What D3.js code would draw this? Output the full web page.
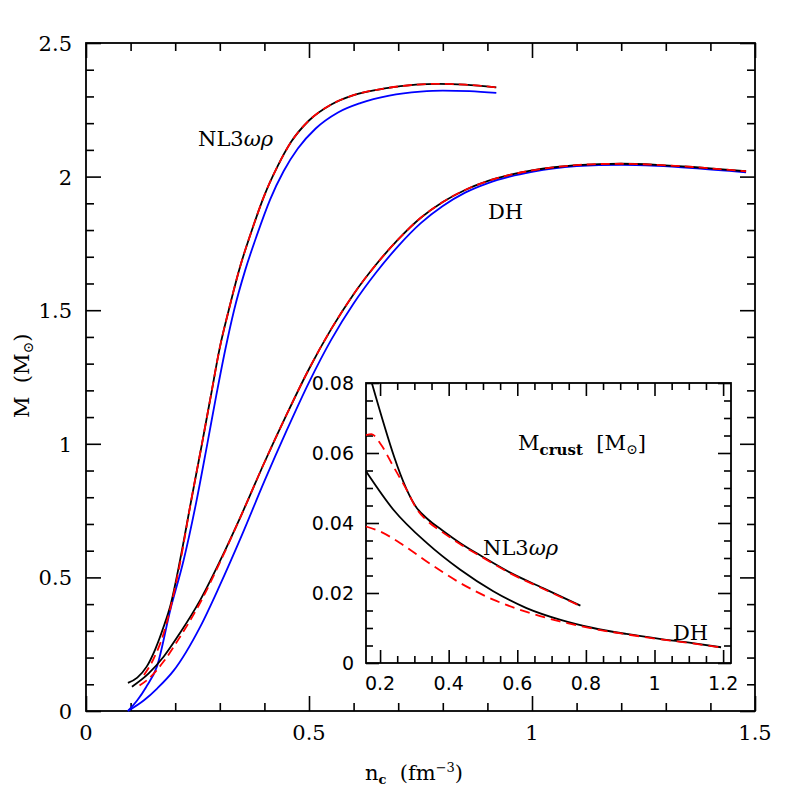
<!DOCTYPE html>
<html>
<head>
<meta charset="utf-8">
<script src="https://cdn.jsdelivr.net/npm/d3@7"></script>
<style>
  body { margin: 0; background: #fff; }
  text { fill: #000; white-space: pre; }
</style>
</head>
<body>
<div id="chart"></div>
<script>
// Main panel: M(n_c) curves, [n_c, M].
const nl3Black = [[0.094,0.105],[0.115,0.125],[0.136,0.166],[0.155,0.23],[0.174,0.315],[0.19,0.40],[0.211,0.565],
  [0.235,0.78],[0.26,1.0],[0.28,1.18],[0.30,1.36],[0.32,1.50],[0.345,1.66],[0.37,1.79],[0.40,1.93],[0.43,2.04],
  [0.46,2.13],[0.50,2.21],[0.55,2.27],[0.60,2.305],[0.67,2.33],[0.74,2.344],[0.79,2.347],[0.85,2.344],[0.92,2.334]];
const nl3Red = [[0.13,0.135],[0.15,0.19],[0.174,0.29],[0.19,0.39],[0.211,0.555],
  [0.235,0.78],[0.26,1.0],[0.28,1.18],[0.30,1.36],[0.32,1.50],[0.345,1.66],[0.37,1.79],[0.40,1.93],[0.43,2.04],
  [0.46,2.13],[0.50,2.21],[0.55,2.27],[0.60,2.305],[0.67,2.33],[0.74,2.344],[0.79,2.347],[0.85,2.344],[0.92,2.334]];
const nl3Blue = [[0.094,0],[0.115,0.04],[0.135,0.09],[0.159,0.166],[0.189,0.378],[0.219,0.565],[0.247,0.78],
  [0.272,1.0],[0.292,1.18],[0.312,1.35],[0.332,1.50],[0.357,1.65],[0.383,1.78],[0.413,1.915],[0.443,2.02],
  [0.475,2.105],[0.515,2.18],[0.565,2.24],[0.615,2.275],[0.68,2.303],[0.75,2.318],[0.80,2.322],[0.86,2.32],[0.92,2.313]];
const dhBlack = [[0.103,0.091],[0.14,0.14],[0.174,0.203],[0.21,0.29],[0.256,0.415],[0.30,0.56],[0.35,0.74],[0.40,0.93],
  [0.45,1.11],[0.50,1.28],[0.55,1.43],[0.60,1.56],[0.65,1.67],[0.70,1.765],[0.75,1.845],[0.80,1.905],[0.85,1.95],
  [0.90,1.983],[0.95,2.006],[1.0,2.023],[1.05,2.035],[1.1,2.043],[1.15,2.047],[1.2,2.048],[1.28,2.044],[1.36,2.036],
  [1.42,2.028],[1.48,2.02]];
const dhRed = [[0.12,0.095],[0.14,0.12],[0.174,0.185],[0.21,0.275],[0.256,0.405],[0.30,0.555],[0.35,0.74],[0.40,0.93],
  [0.45,1.11],[0.50,1.28],[0.55,1.43],[0.60,1.56],[0.65,1.67],[0.70,1.765],[0.75,1.845],[0.80,1.905],[0.85,1.95],
  [0.90,1.983],[0.95,2.006],[1.0,2.023],[1.05,2.035],[1.1,2.043],[1.15,2.047],[1.2,2.048],[1.28,2.044],[1.36,2.036],
  [1.42,2.028],[1.48,2.02]];
const dhBlue = [[0.094,0],[0.13,0.04],[0.16,0.085],[0.196,0.15],[0.256,0.315],[0.30,0.47],[0.35,0.66],[0.40,0.86],
  [0.45,1.05],[0.50,1.23],[0.55,1.39],[0.60,1.525],[0.65,1.64],[0.70,1.74],[0.75,1.825],[0.80,1.89],[0.85,1.94],
  [0.90,1.975],[0.95,2.0],[1.0,2.018],[1.05,2.031],[1.1,2.039],[1.15,2.043],[1.2,2.044],[1.28,2.04],[1.36,2.032],
  [1.48,2.016]];

// Inset: M_crust(n_c).
const crustNl3Black = [[0.176,0.08],[0.307,0.0443],[0.34,0.0410],[0.38,0.0380],[0.433,0.0343],[0.50,0.0303],
  [0.578,0.0259],[0.675,0.0214],[0.784,0.0164]];
const crustNl3Red = [[0.159,0.0651],[0.175,0.0654],[0.2,0.0628],[0.239,0.0561],[0.278,0.0494],[0.307,0.0440],
  [0.34,0.0404],[0.38,0.0375],[0.433,0.0340],[0.50,0.0301],[0.578,0.0257],[0.675,0.0212],[0.784,0.0163]];
const crustDhBlack = [[0.159,0.0548],[0.239,0.0438],[0.336,0.0343],[0.433,0.0267],[0.53,0.0205],[0.627,0.0157],
  [0.724,0.0124],[0.821,0.0100],[0.918,0.0083],[1.015,0.0069],[1.111,0.0057],[1.194,0.0045]];
const crustDhRed = [[0.159,0.0390],[0.2,0.0376],[0.258,0.0343],[0.336,0.0290],[0.433,0.0229],[0.53,0.0181],
  [0.627,0.0146],[0.724,0.0119],[0.821,0.0098],[0.918,0.0082],[1.015,0.0068],[1.111,0.0056],[1.194,0.0044]];

const xMainTicks = [0, 0.5, 1, 1.5];
const yMainTicks = [0, 0.5, 1, 1.5, 2, 2.5];
const xInsetTicks = [0.2, 0.4, 0.6, 0.8, 1, 1.2];
const yInsetTicks = [0, 0.02, 0.04, 0.06, 0.08];

const width = 797, height = 797;
const main = { left: 86, right: 755, top: 43, bottom: 711 };
const inset = { left: 366, right: 731, top: 383, bottom: 663 };
const serif = "DejaVu Serif";

const svg = d3.select("#chart").append("svg")
  .attr("width", width).attr("height", height);

const x = d3.scaleLinear().domain([0, 1.5]).range([main.left, main.right]);
const y = d3.scaleLinear().domain([0, 2.5]).range([main.bottom, main.top]);
const xi = d3.scaleLinear().domain([0.159, 1.223]).range([inset.left, inset.right]);
const yi = d3.scaleLinear().domain([0, 0.08]).range([inset.bottom, inset.top]);

function minorValues(domain, step) {
  const out = [];
  for (let k = Math.ceil(domain[0] / step - 1e-6); k * step <= domain[1] + 1e-9; k++) out.push(+(k * step).toFixed(6));
  return out;
}

// Inward ticks on all four sides of a box, longer at the labelled values.
function frame(g, sx, sy, box, xMajor, xStep, yMajor, yStep, bigT, smallT) {
  const isMajor = (v, list) => list.some(m => Math.abs(m - v) < 1e-6);
  const xs = minorValues(sx.domain(), xStep), ys = minorValues(sy.domain(), yStep);
  const len = (v, list) => isMajor(v, list) ? bigT : smallT;

  g.append("g").attr("transform", "translate(0," + box.bottom + ")")
    .call(d3.axisBottom(sx).tickValues(xs).tickSize(0).tickFormat(""))
    .selectAll(".tick line").attr("y2", d => -len(d, xMajor));
  g.append("g").attr("transform", "translate(0," + box.top + ")")
    .call(d3.axisTop(sx).tickValues(xs).tickSize(0).tickFormat(""))
    .selectAll(".tick line").attr("y2", d => len(d, xMajor));
  g.append("g").attr("transform", "translate(" + box.left + ",0)")
    .call(d3.axisLeft(sy).tickValues(ys).tickSize(0).tickFormat(""))
    .selectAll(".tick line").attr("x2", d => len(d, yMajor));
  g.append("g").attr("transform", "translate(" + box.right + ",0)")
    .call(d3.axisRight(sy).tickValues(ys).tickSize(0).tickFormat(""))
    .selectAll(".tick line").attr("x2", d => -len(d, yMajor));

  g.selectAll(".domain").remove();
  g.selectAll(".tick line").attr("stroke-width", 1.6);
  g.append("rect")
    .attr("x", box.left).attr("y", box.top)
    .attr("width", box.right - box.left).attr("height", box.bottom - box.top)
    .attr("fill", "none").attr("stroke", "#000").attr("stroke-width", 1.8);
}

const line = d3.line().x(d => x(d[0])).y(d => y(d[1])).curve(d3.curveMonotoneX);
const lineI = d3.line().x(d => xi(d[0])).y(d => yi(d[1])).curve(d3.curveMonotoneX);

function draw(g, gen, data, color, dash) {
  g.append("path").attr("d", gen(data))
    .attr("fill", "none").attr("stroke", color).attr("stroke-width", 1.8)
    .attr("stroke-dasharray", dash || null);
}

// Main panel frame and tick labels.
const gMain = svg.append("g");
frame(gMain, x, y, main, xMainTicks, 0.1, yMainTicks, 0.1, 15, 8);

gMain.selectAll(".xlab").data(xMainTicks).enter().append("text")
  .attr("x", d => x(d)).attr("y", main.bottom + 29)
  .attr("text-anchor", "middle")
  .style("font-family", serif).style("font-size", "21px")
  .text(d => d);
gMain.selectAll(".ylab").data(yMainTicks).enter().append("text")
  .attr("x", main.left - 14).attr("y", d => y(d) + 8)
  .attr("text-anchor", "end")
  .style("font-family", serif).style("font-size", "21px")
  .text(d => d);

// Main curves.
draw(gMain, line, nl3Blue, "#0000ff");
draw(gMain, line, dhBlue, "#0000ff");
draw(gMain, line, nl3Black, "#000");
draw(gMain, line, dhBlack, "#000");
draw(gMain, line, nl3Red, "#ff0000", "9,5");
draw(gMain, line, dhRed, "#ff0000", "9,5");

const nl3Lab = svg.append("text").attr("x", 198).attr("y", 146)
  .style("font-family", serif).style("font-size", "21px");
nl3Lab.append("tspan").text("NL3");
nl3Lab.append("tspan").style("font-style", "italic").text("ωρ");
svg.append("text").attr("x", 488).attr("y", 219)
  .style("font-family", serif).style("font-size", "21px").text("DH");

// Axis titles.
const xt = svg.append("text").attr("x", 365).attr("y", 780)
  .style("font-family", serif).style("font-size", "21px");
xt.append("tspan").text("n");
xt.append("tspan").attr("dy", 4).style("font-size", "13px").style("font-weight", "bold").text("c");
xt.append("tspan").attr("dy", -4).text("  (fm");
xt.append("tspan").attr("dy", -8).style("font-size", "13px").text("−3");
xt.append("tspan").attr("dy", 8).text(")");

const yt = svg.append("text")
  .attr("transform", "translate(29,418) rotate(-90)")
  .style("font-family", serif).style("font-size", "21px");
yt.append("tspan").text("M  (M");
yt.append("tspan").attr("dy", 4).style("font-size", "14px").text("⊙");
yt.append("tspan").attr("dy", -4).text(")");

// Inset.
const gIn = svg.append("g");
gIn.append("rect")
  .attr("x", inset.left).attr("y", inset.top)
  .attr("width", inset.right - inset.left).attr("height", inset.bottom - inset.top)
  .attr("fill", "#fff");
frame(gIn, xi, yi, inset, xInsetTicks, 0.05, yInsetTicks, 0.005, 13, 7);

gIn.selectAll(".xil").data(xInsetTicks).enter().append("text")
  .attr("x", d => xi(d)).attr("y", inset.bottom + 27)
  .attr("text-anchor", "middle")
  .style("font-family", "DejaVu Sans").style("font-size", "19px")
  .text(d => d);
gIn.selectAll(".yil").data(yInsetTicks).enter().append("text")
  .attr("x", inset.left - 12).attr("y", d => yi(d) + 7)
  .attr("text-anchor", "end")
  .style("font-family", "DejaVu Sans").style("font-size", "19px")
  .text(d => d);

draw(gIn, lineI, crustNl3Black, "#000");
draw(gIn, lineI, crustDhBlack, "#000");
draw(gIn, lineI, crustNl3Red, "#ff0000", "10,6");
draw(gIn, lineI, crustDhRed, "#ff0000", "10,6");

const mc = svg.append("text").attr("x", 518).attr("y", 450)
  .style("font-family", serif).style("font-size", "21px");
mc.append("tspan").text("M");
mc.append("tspan").attr("dy", 5).style("font-size", "15px").style("font-weight", "bold").text("crust");
mc.append("tspan").attr("dy", -5).text("  [M");
mc.append("tspan").attr("dy", 4).style("font-size", "14px").text("⊙");
mc.append("tspan").attr("dy", -4).text("]");

const nl3In = svg.append("text").attr("x", 483).attr("y", 555)
  .style("font-family", serif).style("font-size", "21px");
nl3In.append("tspan").text("NL3");
nl3In.append("tspan").style("font-style", "italic").text("ωρ");
svg.append("text").attr("x", 673).attr("y", 640)
  .style("font-family", serif).style("font-size", "21px").text("DH");
</script>
</body>
</html>
